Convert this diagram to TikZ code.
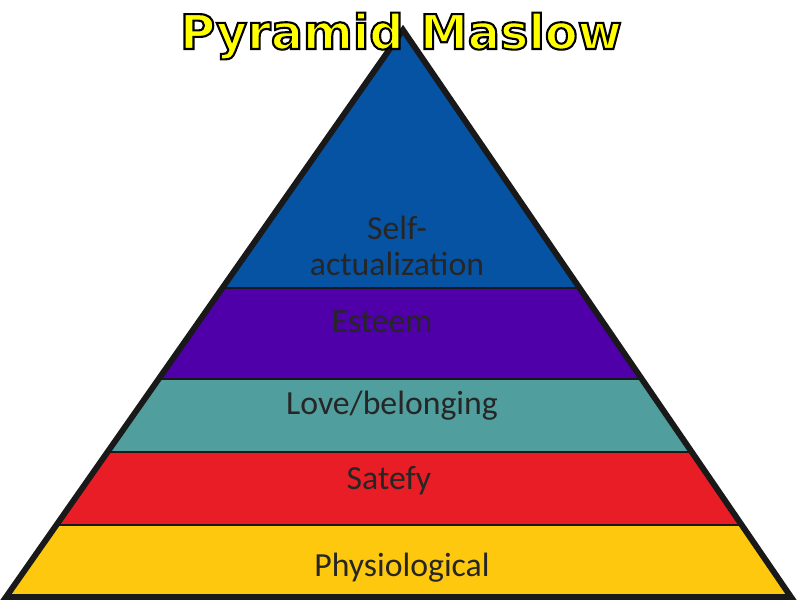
\documentclass[tikz,border=0pt]{standalone}
\usepackage{fontspec}
\setmainfont{Carlito}
\newfontfamily\titlefont{DejaVu Sans}
\usetikzlibrary{calc}
\definecolor{selfblue}{HTML}{0753A3}
\definecolor{esteempurple}{HTML}{5000A8}
\definecolor{loveteal}{HTML}{509E9E}
\definecolor{safetyred}{HTML}{E81D25}
\definecolor{physyellow}{HTML}{FEC80E}
\definecolor{titleyellow}{HTML}{FFFF00}
% outlined text: fill, then stroke in black
\newcommand{\outlined}[1]{\special{pdf:literal direct 0 0 0 RG 2 Tr 1.5 w}#1\special{pdf:literal direct 0 Tr}}

\begin{document}
\begin{tikzpicture}[x=0.025cm,y=-0.025cm,
  layer/.style={draw=black!90, line width=1.3pt},
  label/.style={font=\fontsize{24}{26}\selectfont, text=black!85, align=center}]
  \useasboundingbox (0,0) rectangle (800,600);
  \fill[white] (0,0) rectangle (800,600);
  % corners of the pyramid
  \coordinate (apex) at (403,30);
  \coordinate (bl) at (6,597);
  \coordinate (br) at (791,597);
  % layer borders, left and right
  \coordinate (l1) at ($(apex)!0.455!(bl)$);  \coordinate (r1) at ($(apex)!0.455!(br)$);
  \coordinate (l2) at ($(apex)!0.6155!(bl)$); \coordinate (r2) at ($(apex)!0.6155!(br)$);
  \coordinate (l3) at ($(apex)!0.7443!(bl)$); \coordinate (r3) at ($(apex)!0.7443!(br)$);
  \coordinate (l4) at ($(apex)!0.873!(bl)$);  \coordinate (r4) at ($(apex)!0.873!(br)$);
  \fill[selfblue]     (apex) -- (l1) -- (r1) -- cycle;
  \fill[esteempurple] (l1) -- (l2) -- (r2) -- (r1) -- cycle;
  \fill[loveteal]     (l2) -- (l3) -- (r3) -- (r2) -- cycle;
  \fill[safetyred]    (l3) -- (l4) -- (r4) -- (r3) -- cycle;
  \fill[physyellow]   (l4) -- (bl) -- (br) -- (r4) -- cycle;
  \draw[layer] (l1) -- (r1);
  \draw[layer] (l2) -- (r2);
  \draw[layer] (l3) -- (r3);
  \draw[layer] (l4) -- (r4);
  \draw[black!90, line width=4.2pt, line join=miter] (apex) -- (bl) -- (br) -- cycle;
  % labels
  \node[label] (self) at (397,246) {Self-\\actualization};
  \node[label] (esteem) at (382,322) {Esteem};
  \node[label] (love) at (392,406) {Love/belonging};
  \node[label] (safety) at (389,481) {Satefy};
  \node[label] (phys) at (402,568) {Physiological};
  % title
  \node[font=\titlefont\bfseries\fontsize{34}{36}\selectfont, text=titleyellow] (title) at (401,36) {\outlined{Pyramid Maslow}};
\end{tikzpicture}
\end{document}
